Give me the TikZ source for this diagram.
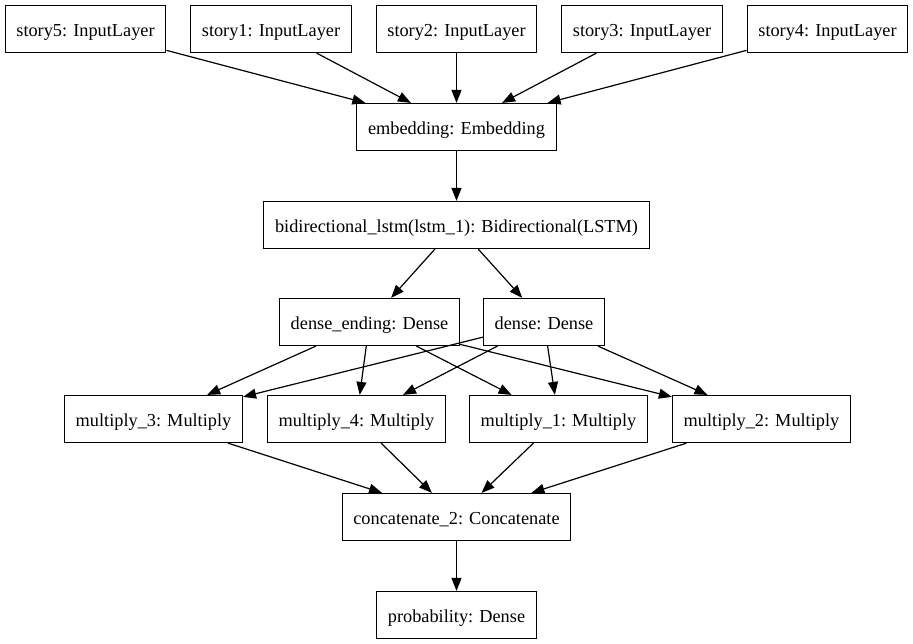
\documentclass[tikz,border=0pt]{standalone}
\usepackage{fontspec}
\setmainfont{Liberation Serif}
\usetikzlibrary{positioning, arrows.meta}

\begin{document}
\begin{tikzpicture}[x=1pt,y=-1pt,node distance=98pt and 185.5pt,on grid,
    layer/.style={draw,rectangle,line width=1.2pt,minimum height=47pt,inner xsep=11.2pt,
        text height=16.8pt,text depth=2pt,font=\fontsize{18.3}{22}\selectfont},
    >={Triangle[length=13pt,width=10pt]}]
    \useasboundingbox (0,0) rectangle (913,644);
    \node[layer] (story2) at (456.5,29) {story2: InputLayer};
    \node[layer, left=of story2] (story1) {story1: InputLayer};
    \node[layer, left=of story1] (story5) {story5: InputLayer};
    \node[layer, right=of story2] (story3) {story3: InputLayer};
    \node[layer, right=of story3] (story4) {story4: InputLayer};
    \node[layer, below=of story2] (embedding) {embedding: Embedding};
    \node[layer, below=of embedding] (bilstm) {bidirectional\_lstm(lstm\_1): Bidirectional(LSTM)};
    \node[layer, below left=97pt and 87pt of bilstm] (dense_ending) {dense\_ending: Dense};
    \node[layer, below right=97pt and 87.5pt of bilstm] (dense) {dense: Dense};
    \node[layer, below left=194pt and 100pt of bilstm] (multiply_4) {multiply\_4: Multiply};
    \node[layer, below right=194pt and 102pt of bilstm] (multiply_1) {multiply\_1: Multiply};
    \node[layer, left=203pt of multiply_4] (multiply_3) {multiply\_3: Multiply};
    \node[layer, right=203pt of multiply_1] (multiply_2) {multiply\_2: Multiply};
    \node[layer, below=292pt of bilstm] (concatenate_2) {concatenate\_2: Concatenate};
    \node[layer, below=of concatenate_2] (probability) {probability: Dense};
    \path[->, line width=1.2pt]
        (story5) edge (embedding)
        (story1) edge (embedding)
        (story2) edge (embedding)
        (story3) edge (embedding)
        (story4) edge (embedding)
        (embedding) edge (bilstm)
        (bilstm) edge (dense_ending)
            edge (dense)
        (dense_ending) edge (multiply_3)
            edge (multiply_4)
            edge (multiply_1)
            edge (multiply_2)
        (dense) edge (multiply_3)
            edge (multiply_4)
            edge (multiply_1)
            edge (multiply_2)
        (multiply_3) edge (concatenate_2)
        (multiply_4) edge (concatenate_2)
        (multiply_1) edge (concatenate_2)
        (multiply_2) edge (concatenate_2)
        (concatenate_2) edge (probability);
\end{tikzpicture}
\end{document}
